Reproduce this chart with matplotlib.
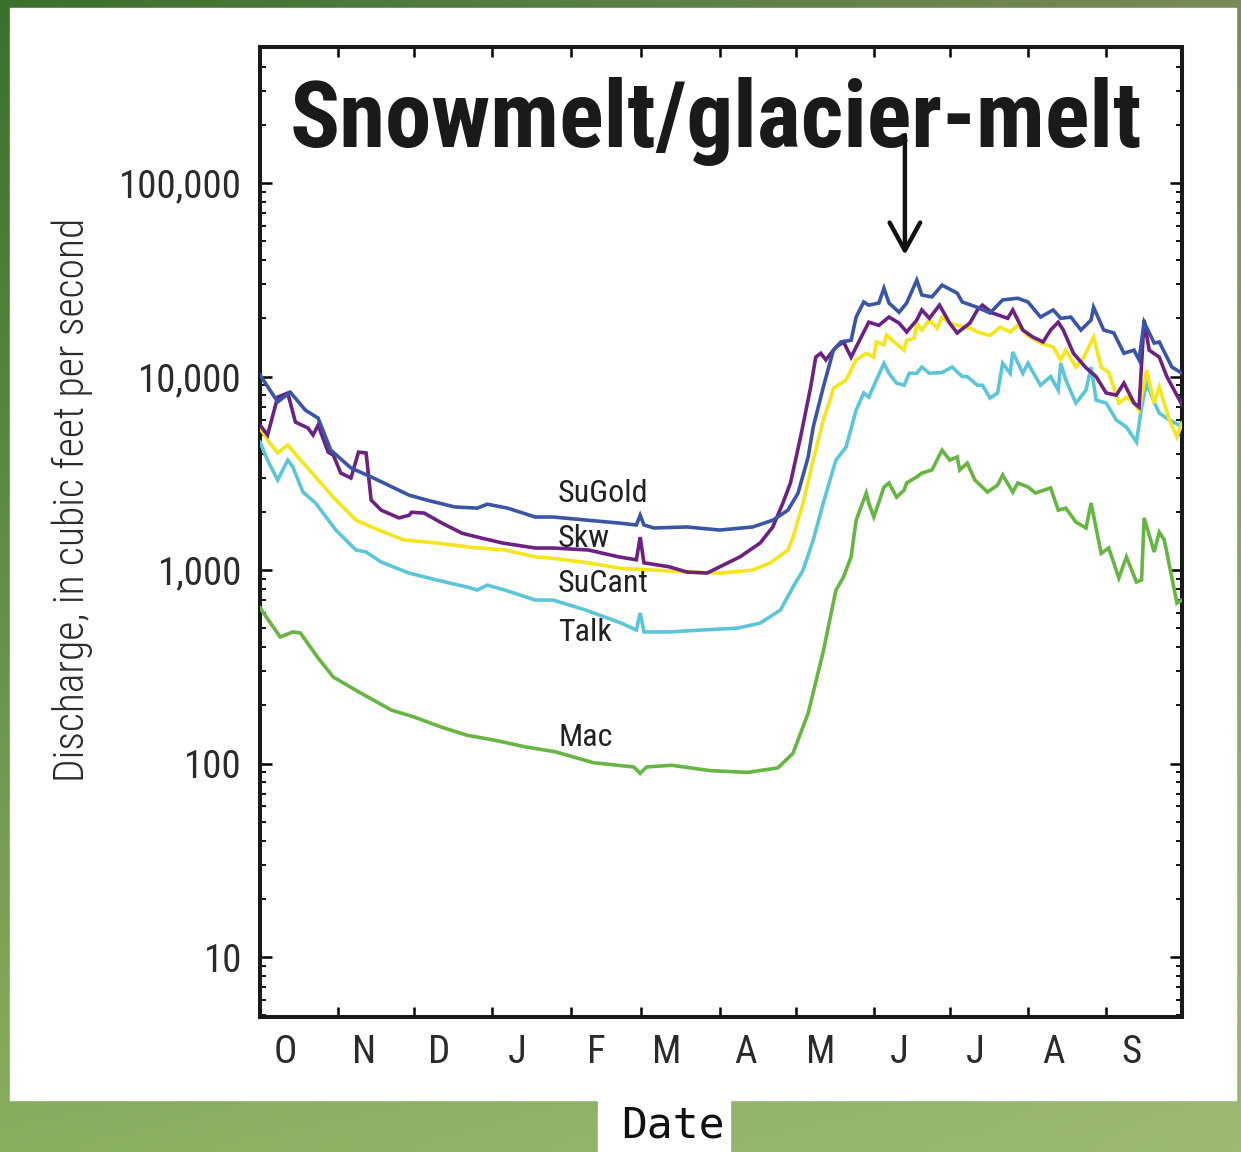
import matplotlib
matplotlib.use('Agg')
import matplotlib.pyplot as plt
import numpy as np
from matplotlib.ticker import FixedLocator, NullFormatter, FuncFormatter, LogLocator, FixedFormatter
from matplotlib.patches import Rectangle

plt.rcParams['font.family'] = ['Liberation Sans Narrow', 'Roboto Condensed', 'DejaVu Sans']
plt.rcParams['font.stretch'] = 'condensed'

# ---------------- data (day of water year, discharge in cfs) ----------------
month_labels = ['O', 'N', 'D', 'J', 'F', 'M', 'A', 'M', 'J', 'J', 'A', 'S']
month_starts = [0, 31, 61, 92, 123, 151, 182, 212, 243, 273, 304, 335, 365]

sugold_days = [0, 7, 12, 18, 23, 28, 36, 44, 59, 66, 77, 86, 90, 98, 109, 116, 142, 149, 150.5, 152,
               156, 169, 182, 195, 203, 209, 213, 217, 219, 223, 227, 230, 234, 236, 239, 241, 245, 247, 249, 253,
               256, 260, 262, 266, 270, 276, 278, 284, 289, 294, 300, 304, 309, 314, 317, 321, 325, 329, 330, 334,
               338, 342, 346, 348, 350, 354, 356, 361, 365]
sugold_vals = [10200, 7400, 8300, 6700, 6100, 4170, 3370, 3030, 2440, 2300, 2120, 2090, 2190, 2090, 1880, 1880, 1750, 1710, 1920, 1710,
               1650, 1670, 1610, 1670, 1810, 2040, 2500, 3840, 5480, 8830, 13700, 15100, 15400, 20300, 24300, 23400, 24000, 28600, 24000, 21500,
               24000, 31500, 26400, 25800, 29700, 27000, 24300, 22800, 21300, 24900, 25400, 24300, 20300, 22100, 20000, 20300, 17400, 19600, 22800, 17400,
               16800, 13200, 13700, 12200, 19100, 14900, 15100, 11200, 10400]

skw_days = [0, 3, 7, 11, 14, 19, 21, 23, 27, 29, 32, 36, 39, 42, 44, 48, 55, 59, 60, 65,
            72, 80, 88, 96, 109, 116, 130, 142, 149, 150.5, 152, 162, 169, 177, 182, 190, 198, 203, 207, 210,
            214, 218, 220, 222, 224, 228, 231, 234, 238, 241, 245, 249, 253, 256, 260, 262, 265, 269, 273, 276,
            281, 284, 286, 290, 296, 298, 302, 306, 310, 313, 316, 318, 322, 327, 331, 335, 339, 342, 346, 348,
            350, 352, 356, 359, 364, 365]
skw_vals = [5610, 4990, 7830, 8220, 5820, 5420, 4990, 5610, 4070, 3930, 3170, 2990, 4070, 4030, 2300, 2040, 1860, 1920, 1990, 1970,
            1750, 1550, 1460, 1380, 1300, 1300, 1270, 1170, 1130, 1480, 1090, 1040, 977, 965, 1040, 1170, 1380, 1670, 2220, 2820,
            4870, 8830, 12600, 13200, 12200, 14200, 15100, 12600, 16000, 19100, 18400, 20300, 18900, 17000, 19600, 22100, 20000, 23400, 18900, 16800,
            18900, 22100, 23400, 21300, 20000, 22100, 17400, 16000, 15100, 17400, 19100, 17400, 13200, 11100, 10000, 8220, 8020, 9250, 7300, 6950,
            19600, 13700, 12600, 10000, 7560, 7130]

sucant_days = [0, 3, 7, 11, 15, 22, 29, 38, 47, 57, 70, 84, 97, 109, 116, 130, 143, 156, 169, 182,
               195, 202, 209, 211, 215, 219, 223, 226, 227, 232, 236, 240, 243, 244, 247, 248, 251, 255,
               256, 259, 260, 262, 265, 268, 270, 273, 276, 281, 284, 289, 293, 297, 300, 304, 309, 314, 317, 319,
               323, 326, 330, 333, 336, 340, 343, 346, 348, 351, 354, 356, 360, 363, 365]
sucant_vals = [5420, 4700, 4030, 4430, 3840, 3030, 2380, 1810, 1610, 1430, 1380, 1310, 1270, 1170, 1150, 1090, 1020, 1000, 977, 965,
               1000, 1090, 1270, 1480, 2220, 3700, 5960, 7830, 8720, 9590, 12200, 13200, 12600, 15100, 14600, 16400, 15100, 13700,
               15400, 15800, 18900, 17400, 19600, 17800, 20300, 18900, 18400, 17800, 17000, 16300, 18000, 17000, 18400, 16300, 14900, 14200, 12200, 13700,
               11200, 12500, 16000, 11200, 10500, 7300, 7830, 7300, 6710, 10800, 7300, 8830, 5960, 4870, 5750]

talk_days = [0, 3, 7, 11, 13, 17, 22, 30, 38, 42, 48, 59, 70, 82, 86, 90, 97, 109, 116, 129,
             143, 149, 150.5, 152, 162, 175, 189, 198, 206, 211, 215, 219, 223, 226, 228, 232, 236, 239, 241, 244,
             247, 249, 252, 255, 257, 260, 262, 265, 270, 274, 278, 280, 284, 286, 289, 292, 294, 297, 298, 302,
             304, 309, 313, 316, 317, 319, 323, 327, 329, 331, 335, 339, 343, 347, 349, 351, 354, 356, 360, 364, 365]
talk_vals = [4590, 3700, 2920, 3700, 3410, 2530, 2220, 1610, 1270, 1240, 1100, 965, 888, 817, 788, 836, 788, 700, 700, 621,
             532, 490, 600, 479, 479, 490, 501, 532, 621, 817, 1000, 1430, 2220, 3030, 3700, 4320, 6710, 8220, 7830, 9590,
             11700, 10400, 9250, 9020, 10400, 10400, 11200, 10400, 10500, 11200, 10000, 10000, 9020, 9020, 7740, 8220, 11700, 10400, 13400, 10400,
             11700, 9020, 10000, 8510, 11700, 9590, 7300, 8510, 11200, 7560, 7300, 5960, 5480, 4590, 6950, 9250, 7380, 6470, 5960, 5610, 5480]

mac_days = [0, 8, 13, 16, 23, 29, 40, 52, 61, 72, 82, 93, 105, 117, 132, 148, 150.5, 153, 163, 178,
            193, 205, 211, 217, 223, 228, 231, 234, 236, 240, 241, 243, 247, 249, 252, 255, 256, 260, 262, 266,
            270, 273, 276, 277, 280, 283, 288, 292, 294, 298, 300, 304, 307, 313, 316, 319, 323, 327, 329, 333,
            336, 340, 343, 347, 349, 350, 354, 356, 358, 363, 365]
mac_vals = [637, 451, 479, 473, 351, 280, 231, 189, 174, 154, 140, 132, 122, 115, 101, 96, 89, 96, 98, 92,
            90, 95, 113, 182, 380, 788, 920, 1170, 1810, 2500, 2220, 1880, 2680, 2820, 2380, 2590, 2820, 3030, 3170, 3290,
            4170, 3700, 3840, 3290, 3570, 2920, 2530, 2750, 3100, 2530, 2820, 2690, 2500, 2660, 2040, 2090, 1770, 1650, 2220, 1220,
            1300, 910, 1170, 867, 888, 1860, 1240, 1570, 1430, 675, 700]

series = [
    ('Mac', mac_days, mac_vals, '#67b543', 136),
    ('Talk', talk_days, talk_vals, '#5cc6d8', 478),
    ('SuCant', sucant_days, sucant_vals, '#f3e61d', 857),
    ('Skw', skw_days, skw_vals, '#6b2282', 1460),
    ('SuGold', sugold_days, sugold_vals, '#3a55a6', 2500),
]

# ---------------- figure & background ----------------
W, H = 1241, 1152
fig = plt.figure(figsize=(W / 100, H / 100), dpi=100)
bg = fig.add_axes([0, 0, 1, 1])
bg.axis('off')
n = 64
u = np.linspace(0, 1, n)[None, :, None]
v = np.linspace(0, 1, n)[:, None, None]
tl = np.array([0x3a, 0x72, 0x2c]) / 255
tr = np.array([0x7a, 0x8c, 0x56]) / 255
bl = np.array([0x8a, 0xae, 0x60]) / 255
br = np.array([0x9c, 0xba, 0x72]) / 255
img = (1 - v) * ((1 - u) * tl + u * tr) + v * ((1 - u) * bl + u * br)
bg.imshow(img, extent=[0, 1, 0, 1], aspect='auto', origin='upper', interpolation='bilinear')
bg.set_xlim(0, 1)
bg.set_ylim(0, 1)
bg.add_patch(Rectangle((10 / W, 1 - 1100 / H), (1236 - 10) / W, (1100 - 8) / H, color='white', zorder=2))
bg.add_patch(Rectangle((598 / W, 0), 132 / W, 52 / H, color='white', zorder=2))
fig.text(621 / W, 1 - 1137 / H, 'Date', family='DejaVu Sans Mono', stretch='normal', fontsize=31,
         va='baseline', ha='left', color='#111')

# ---------------- main axes ----------------
ax = fig.add_axes([260 / W, 1 - 1017 / H, 922 / W, 970 / H])
ax.set_facecolor('white')
for name, d, vals, col, ly in series:
    ax.plot(d, vals, color=col, lw=2.6, solid_joinstyle='miter', zorder=3)
    ax.text(118, ly, name, fontsize=23, va='center', ha='left', color='#222', zorder=4)

ax.set_yscale('log')
ax.set_ylim(4.9, 505000)
ax.set_xlim(month_starts[0], month_starts[-1])

ax.yaxis.set_major_locator(FixedLocator([10, 100, 1000, 10000, 100000]))
ax.yaxis.set_minor_locator(LogLocator(base=10, subs=np.arange(2, 10), numticks=30))
ax.yaxis.set_minor_formatter(NullFormatter())
ax.yaxis.set_major_formatter(FuncFormatter(lambda val, p: f'{int(round(val)):,}'))
ax.tick_params(axis='y', which='major', direction='in', length=8.5, width=1.8, left=True, right=True,
               labelsize=28, pad=13, labelcolor='#2b2b2b')
ax.tick_params(axis='y', which='minor', direction='in', length=4.3, width=1.3, left=True, right=True)

ax.xaxis.set_major_locator(FixedLocator(month_starts[1:-1]))
ax.xaxis.set_major_formatter(NullFormatter())
ax.xaxis.set_minor_locator(FixedLocator([m + 10 for m in month_starts[:-1]]))
ax.xaxis.set_minor_formatter(FixedFormatter(month_labels))
ax.tick_params(axis='x', which='major', direction='in', length=7, width=1.8, top=True, bottom=True)
ax.tick_params(axis='x', which='minor', length=0, labelsize=28, pad=12, labelcolor='#2b2b2b')

for s in ax.spines.values():
    s.set_linewidth(2.9)
    s.set_color('#1a1a1a')

ax.text(0.0325, 0.897, 'Snowmelt/glacier-melt', transform=ax.transAxes, fontsize=67, fontweight='bold',
        va='baseline', ha='left', color='#1a1a1a', zorder=5)

ax.annotate('', xy=(255.3, 42500), xytext=(255.3, 177000),
            arrowprops=dict(arrowstyle='->,head_length=1.0,head_width=0.55', lw=3.2, color='#111',
                            mutation_scale=20, shrinkA=0, shrinkB=0), zorder=6)

fig.text(72 / W, 1 - 500 / H, 'Discharge, in cubic feet per second', rotation=90, fontsize=30,
         fontweight='light', va='center', ha='center', color='#2b2b2b')

fig.savefig('out.png', dpi=100)
